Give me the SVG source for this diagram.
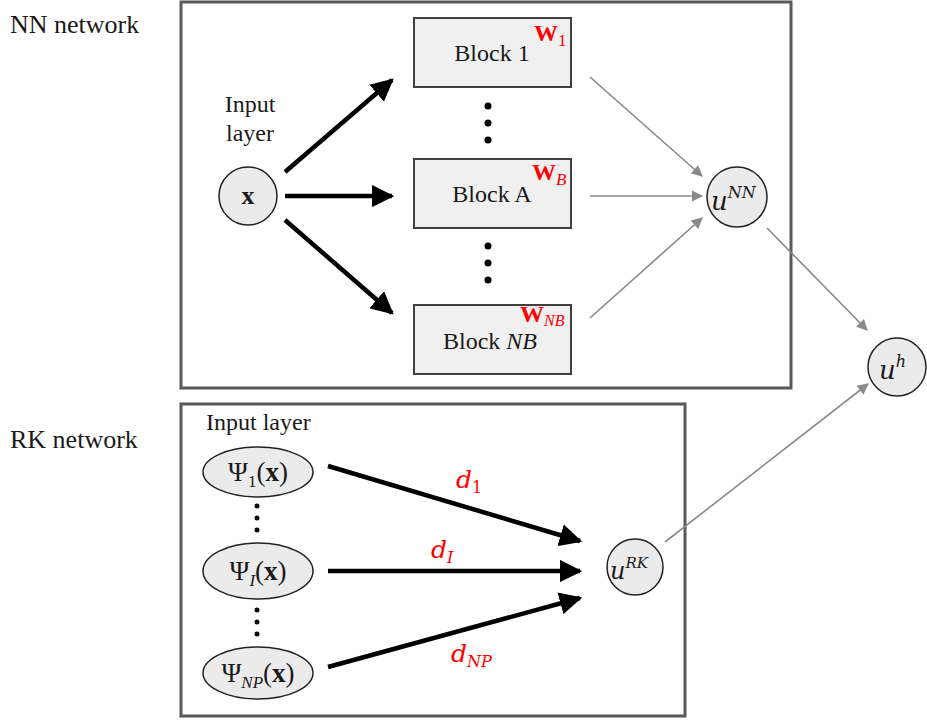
<svg xmlns="http://www.w3.org/2000/svg" width="927" height="724" viewBox="0 0 927 724">
<style>
.frame{fill:none;stroke:#595959;stroke-width:3}
.blk{fill:#f0f0f0;stroke:#404040;stroke-width:2}
.nd{fill:#ebebeb;stroke:#222;stroke-width:1.5}
.t{font-family:"Liberation Serif",serif;fill:#1a1a1a}
.m{font-family:"DejaVu Serif","Liberation Serif",serif;font-style:italic;fill:#1a1a1a}
.r{fill:#ff0000}
.thick{stroke:#000;stroke-width:4.5;fill:none;marker-end:url(#ah)}
.thin{stroke:#888;stroke-width:1.6;fill:none;marker-end:url(#ag)}
</style>
<defs>
<marker id="ah" viewBox="0 0 10 10" refX="9" refY="5" markerWidth="5" markerHeight="5" orient="auto" markerUnits="strokeWidth"><path d="M0,0 L10,5 L0,10 z" fill="#000"/></marker>
<marker id="ag" viewBox="0 0 10 10" refX="9" refY="5" markerWidth="8" markerHeight="7" orient="auto" markerUnits="strokeWidth"><path d="M0,0 L10,5 L0,10 z" fill="#888"/></marker>
</defs>
<rect class="frame" x="181" y="2" width="610" height="386"/>
<rect class="frame" x="181" y="404" width="504" height="312"/>
<text class="t" x="10" y="33" font-size="26">NN network</text>
<text class="t" x="10" y="448" font-size="26">RK network</text>
<g id="input-nn">
<text class="t" x="250" y="112" text-anchor="middle" font-size="24">Input</text>
<text class="t" x="250" y="141" text-anchor="middle" font-size="24">layer</text>
<circle class="nd" cx="248" cy="196" r="29"/>
<text x="248" y="204" text-anchor="middle" font-family="Liberation Serif,serif" font-weight="bold" font-size="26" fill="#1a1a1a">x</text>
</g>
<g id="block1">
<rect class="blk" x="414" y="18" width="157" height="69"/>
<text class="t" x="492" y="61" text-anchor="middle" font-size="24">Block 1</text>
<text x="534" y="41" font-family="Liberation Serif,serif" font-weight="bold" font-size="24" class="r">W<tspan font-weight="normal" font-size="17" dy="5">1</tspan></text>
</g>
<g id="blockA">
<rect class="blk" x="414" y="159" width="157" height="69"/>
<text class="t" x="492" y="202" text-anchor="middle" font-size="24">Block A</text>
<text x="532" y="180" font-family="Liberation Serif,serif" font-weight="bold" font-size="24" class="r">W<tspan font-weight="normal" font-style="italic" font-size="17" dy="5">B</tspan></text>
</g>
<g id="blockNB">
<rect class="blk" x="414" y="305" width="157" height="69"/>
<text class="t" x="490" y="349" text-anchor="middle" font-size="24">Block <tspan font-style="italic">NB</tspan></text>
<text x="520" y="322" font-family="Liberation Serif,serif" font-weight="bold" font-size="24" class="r">W<tspan font-weight="normal" font-style="italic" font-size="16" dy="4">NB</tspan></text>
</g>
<g id="dots-nn" fill="#000">
<circle cx="488" cy="106" r="3.5"/><circle cx="488" cy="123" r="3.5"/><circle cx="488" cy="140" r="3.5"/>
<circle cx="488" cy="246" r="3.5"/><circle cx="488" cy="263" r="3.5"/><circle cx="488" cy="280" r="3.5"/>
</g>
<g id="uNN">
<circle class="nd" cx="737" cy="197" r="30"/>
<text class="m" x="711" y="210" font-size="26">u<tspan font-size="16" dy="-12">NN</tspan></text>
</g>
<g id="uh">
<circle class="nd" cx="897" cy="367" r="29"/>
<text class="m" x="879" y="379" font-size="26">u<tspan font-size="16" dy="-12">h</tspan></text>
</g>
<g id="input-rk">
<text class="t" x="206" y="430" font-size="24">Input layer</text>
</g>
<g id="psi1">
<ellipse class="nd" cx="258" cy="472" rx="55" ry="25"/>
<text x="258" y="481" text-anchor="middle" font-family="Liberation Serif,serif" font-size="27" fill="#1a1a1a">Ψ<tspan font-size="17" dy="6">1</tspan><tspan dy="-6">(</tspan><tspan font-weight="bold">x</tspan>)</text>
</g>
<g id="psiI">
<ellipse class="nd" cx="258" cy="571" rx="55" ry="28"/>
<text x="258" y="580" text-anchor="middle" font-family="Liberation Serif,serif" font-size="27" fill="#1a1a1a">Ψ<tspan font-size="17" font-style="italic" dy="6">I</tspan><tspan dy="-6">(</tspan><tspan font-weight="bold">x</tspan>)</text>
</g>
<g id="psiNP">
<ellipse class="nd" cx="258" cy="673" rx="55" ry="26"/>
<text x="258" y="682" text-anchor="middle" font-family="Liberation Serif,serif" font-size="27" fill="#1a1a1a">Ψ<tspan font-size="17" font-style="italic" dy="6">NP</tspan><tspan dy="-6">(</tspan><tspan font-weight="bold">x</tspan>)</text>
</g>
<g id="dots-rk" fill="#000">
<circle cx="257" cy="506" r="2.5"/><circle cx="257" cy="518" r="2.5"/><circle cx="257" cy="530" r="2.5"/>
<circle cx="257" cy="610" r="2.5"/><circle cx="257" cy="622" r="2.5"/><circle cx="257" cy="634" r="2.5"/>
</g>
<g id="uRK">
<circle class="nd" cx="635" cy="567" r="28"/>
<text class="m" x="610" y="579" font-size="24">u<tspan font-size="15" dy="-11">RK</tspan></text>
</g>
<g id="connectors">
<line class="thick" x1="285" y1="172" x2="392" y2="80"/>
<line class="thick" x1="285" y1="196" x2="392" y2="196"/>
<line class="thick" x1="285" y1="220" x2="392" y2="313"/>
<line class="thin" x1="590" y1="77" x2="702" y2="176"/>
<line class="thin" x1="590" y1="196" x2="702" y2="196"/>
<line class="thin" x1="590" y1="318" x2="702" y2="218"/>
<line class="thin" x1="767" y1="228" x2="867" y2="330"/>
<line class="thin" x1="665" y1="542" x2="868" y2="384"/>
<line class="thick" x1="328" y1="466" x2="580" y2="541"/>
<line class="thick" x1="328" y1="571" x2="580" y2="571"/>
<line class="thick" x1="328" y1="667" x2="580" y2="598"/>
</g>
<g id="labels" font-family="DejaVu Serif,serif" font-style="italic" fill="#ff0000">
<text x="456" y="488" font-size="25">d<tspan font-size="16" font-style="normal" dy="5">1</tspan></text>
<text x="431" y="558" font-size="25">d<tspan font-size="16" dy="5">I</tspan></text>
<text x="451" y="662" font-size="25">d<tspan font-size="16" dy="5">NP</tspan></text>
</g>
</svg>
